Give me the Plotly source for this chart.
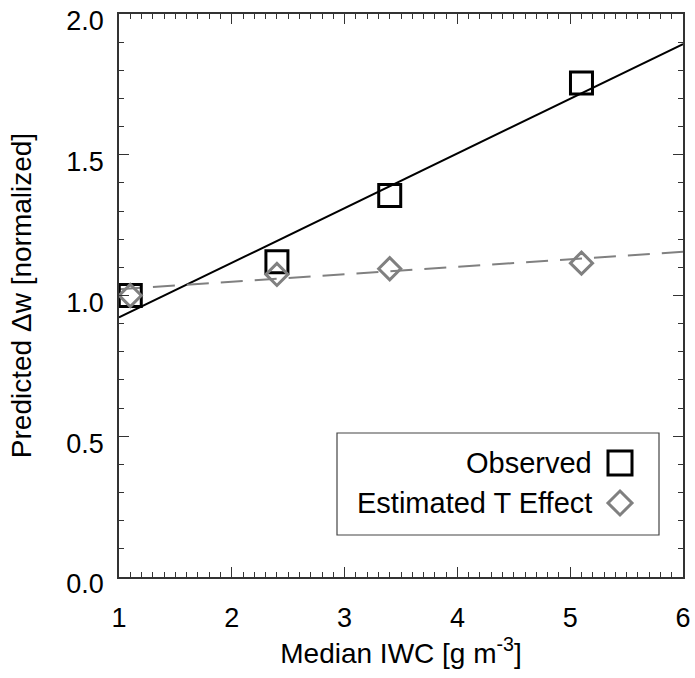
import plotly.graph_objects as go

# ---- data ----
iwc = [1.1, 2.4, 3.4, 5.1]
observed = [1.00, 1.12, 1.355, 1.755]
estimated_t = [1.00, 1.075, 1.095, 1.115]
fit_x = [1.0, 6.0]
fit_observed = [0.922, 1.893]
fit_estimated = [1.022, 1.155]

x_ticks = [1, 2, 3, 4, 5, 6]
y_ticks = [0.0, 0.5, 1.0, 1.5, 2.0]
y_tick_labels = ["0.0", "0.5", "1.0", "1.5", "2.0"]

FONT = "Liberation Sans, Arial, Helvetica, sans-serif"
GREY = "#808080"

fig = go.Figure()
fig.add_trace(go.Scatter(x=fit_x, y=fit_observed, mode="lines",
                         line=dict(color="black", width=2), showlegend=False))
fig.add_trace(go.Scatter(x=fit_x, y=fit_estimated, mode="lines",
                         line=dict(color=GREY, width=2, dash="22px,12px"), showlegend=False))
fig.add_trace(go.Scatter(x=iwc, y=observed, mode="markers",
                         marker=dict(symbol="square-open", size=22, color="black",
                                     line=dict(width=3, color="black")), showlegend=False))
fig.add_trace(go.Scatter(x=iwc, y=estimated_t, mode="markers",
                         marker=dict(symbol="diamond-open", size=17, color=GREY,
                                     line=dict(width=3, color=GREY)), showlegend=False))

axis_common = dict(showline=True, linecolor="#333", linewidth=1.5, mirror="ticks",
                   ticks="inside", ticklen=10, tickwidth=1.2, tickcolor="#333",
                   showgrid=False, zeroline=False, automargin=False,
                   ticklabeloverflow="allow",
                   tickfont=dict(family=FONT, size=27, color="black"))

fig.update_xaxes(range=[1, 6], tickvals=x_ticks, ticktext=[str(v) for v in x_ticks],
                 minor=dict(ticks="inside", ticklen=5, dtick=0.1, tickcolor="#333", tickwidth=1),
                 ticklabelstandoff=16,
                 title=dict(text="Median IWC [g m<sup>-3</sup>]", font=dict(family=FONT, size=28, color="black"),
                            standoff=8),
                 **axis_common)
fig.update_yaxes(range=[0, 2], tickvals=y_ticks, ticktext=y_tick_labels,
                 minor=dict(ticks="inside", ticklen=5, dtick=0.1, tickcolor="#333", tickwidth=1),
                 ticklabelstandoff=8, ticklabelshift=7,
                 title=dict(text="Predicted Δw [normalized]", font=dict(family=FONT, size=28, color="black"),
                            standoff=27),
                 **axis_common)

# legend box (drawn manually: text right, symbol on the right)
W, H = 695, 678
L, R, T, B = 119, 12, 14, 101
pw, ph = W - L - R, H - T - B

def px2x(px):
    return (px - L) / pw

def py2y(py):
    return 1 - (py - T) / ph

shapes = [dict(type="rect", xref="paper", yref="paper",
               x0=px2x(337), x1=px2x(659), y0=py2y(535), y1=py2y(433),
               line=dict(color="#444", width=1.2), fillcolor="white")]
# square symbol
cx, cy, s = 620, 463, 12
shapes.append(dict(type="rect", xref="paper", yref="paper",
                   x0=px2x(cx - s), x1=px2x(cx + s), y0=py2y(cy + s), y1=py2y(cy - s),
                   line=dict(color="black", width=3)))
# diamond symbol
cx, cy, d = 620, 503, 12
path = "M {} {} L {} {} L {} {} L {} {} Z".format(
    px2x(cx), py2y(cy - d), px2x(cx + d), py2y(cy), px2x(cx), py2y(cy + d), px2x(cx - d), py2y(cy))
shapes.append(dict(type="path", xref="paper", yref="paper", path=path,
                   line=dict(color=GREY, width=3)))

annotations = [
    dict(text="Observed", xref="paper", yref="paper", x=px2x(594), y=py2y(463),
         xanchor="right", yanchor="middle", showarrow=False,
         font=dict(family=FONT, size=29, color="black")),
    dict(text="Estimated T Effect", xref="paper", yref="paper", x=px2x(594), y=py2y(503),
         xanchor="right", yanchor="middle", showarrow=False,
         font=dict(family=FONT, size=29, color="black")),
]

fig.update_layout(width=W, height=H, margin=dict(l=L, r=R, t=T, b=B, autoexpand=False),
                  plot_bgcolor="white", paper_bgcolor="white",
                  shapes=shapes, annotations=annotations, showlegend=False)

fig.write_html("out.html", config={"displayModeBar": False},
               post_script="document.body.style.margin='0';")
